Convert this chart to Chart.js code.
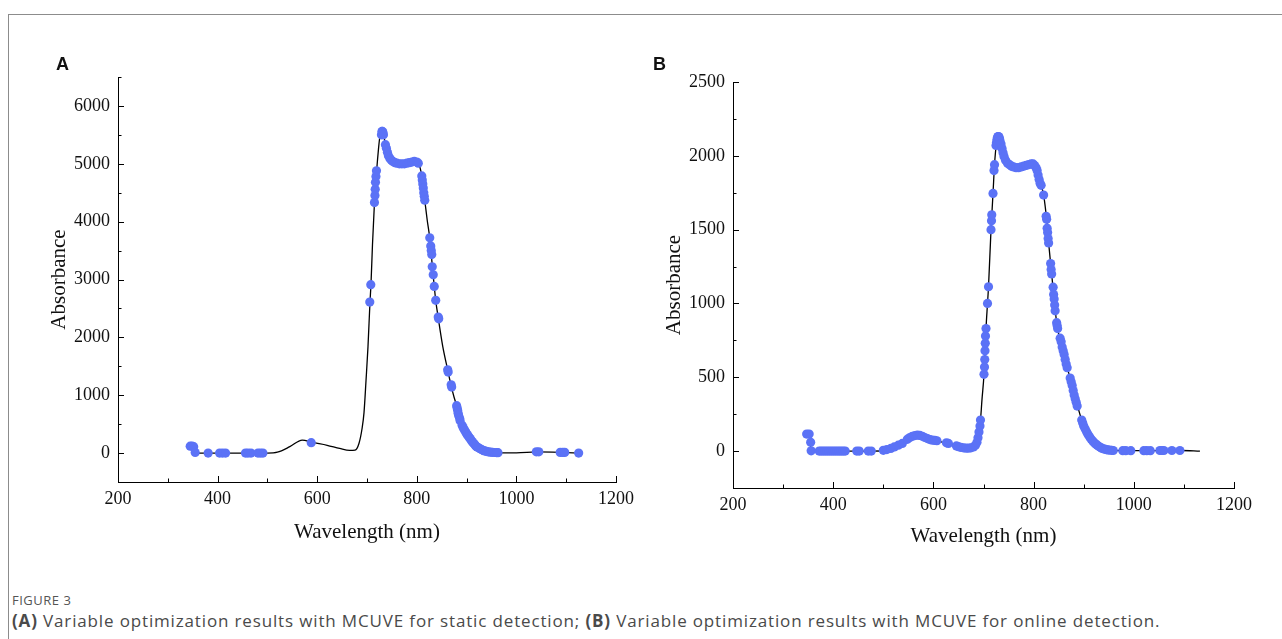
<!DOCTYPE html>
<html>
<head>
<meta charset="utf-8">
<script src="https://cdn.jsdelivr.net/npm/chart.js@4.4.1/dist/chart.umd.min.js"></script>
<style>
  body { margin: 0; background: #fff; width: 1282px; height: 639px; overflow: hidden; position: relative; font-family: 'Open Sans', sans-serif; }
  .frame-top { position: absolute; left: 8px; top: 14px; right: 0; height: 1px; background: #8c8c8c; }
  .frame-left { position: absolute; left: 8px; top: 14px; bottom: 0; width: 1px; background: #8c8c8c; }
  canvas { position: absolute; top: 0; }
  #chartA { left: 0; }
  #chartB { left: 640px; }
  .panel { position: absolute; top: 55px; font: bold 18px/18px 'Liberation Sans', Arial, sans-serif; color: #111; }
  .fig { position: absolute; left: 12px; top: 594px; font-size: 13px; line-height: 13px; letter-spacing: 0.5px; color: #555; }
  .cap { position: absolute; left: 12px; top: 612px; font-size: 17px; line-height: 17px; letter-spacing: 0.85px; color: #4a4a4a; white-space: nowrap; }
</style>
</head>
<body>
<div class="frame-top"></div>
<div class="frame-left"></div>
<canvas id="chartA" width="640" height="560"></canvas>
<canvas id="chartB" width="642" height="560"></canvas>
<div class="panel" style="left:56px">A</div>
<div class="panel" style="left:653px">B</div>
<div class="fig">FIGURE 3</div>
<div class="cap"><b>(A)</b> Variable optimization results with MCUVE for static detection; <b>(B)</b> Variable optimization results with MCUVE for online detection.</div>
<script>
// tick labels
const xTickLabels = [200, 400, 600, 800, 1000, 1200];
const yTickLabelsA = [0, 1000, 2000, 3000, 4000, 5000, 6000];
const yTickLabelsB = [0, 500, 1000, 1500, 2000, 2500];

// panel A: full spectrum (static)
const specWlA = [345,350,353,356,380,420,500,520,545,570,590,620,645,665,676,684,690,694,698,702,
  706,708,711,715,719.5,723,726,729,731,733,737,741,746,752,760,770,780,790,797,803,
  806,810,816,821,826,831,838,843,852,862,869,875,880,887,895,905,915,925,935,945,
  955,965,1000,1042,1092,1125];
const specAbsA = [120,118,110,5,0,0,0,15,110,225,185,135,80,45,50,170,420,700,1250,1840,
  2610,2918,3600,4330,4896,5250,5480,5560,5560,5530,5330,5200,5090,5040,5010,5000,5010,5030,5045,5010,
  4950,4790,4370,4020,3720,3250,2640,2340,1850,1440,1160,960,820,560,410,275,160,85,42,18,
  10,5,5,22,12,0];

// panel A: variables selected by MCUVE
const selWlA = [345,349,352,355,381,404,410,416,456,461,467,481,486,491,588,
  705.6,707.6,715,716,716.5,717,718,719,
  729,730,731,732,733,
  737,739,741,743,746,749,752,756,760,765,770,775,780,785,790,795,800,803,
  810,811,812,813,814,815,816,
  826,828,829,830,831,833,835,838,843,844,
  862,863,869,870,
  880,881,882,883,884,886,887,
  891,893,895,897,899,901,903,905,907,909,911,913,915,917,919,921,924,927,930,933,936,940,944,948,952,956,960,963,
  1040,1045,1088,1093,1097,1125];
const selAbsA = [120,120,110,10,0,0,0,0,0,0,0,0,0,0,180,
  2610,2910,4330,4450,4560,4680,4780,4880,
  5500,5560,5560,5540,5500,
  5330,5270,5200,5140,5090,5060,5040,5020,5010,5000,5000,5000,5010,5020,5030,5040,5030,5010,
  4790,4720,4650,4580,4500,4440,4370,
  3720,3580,3500,3430,3220,3080,2880,2640,2350,2320,
  1440,1400,1180,1140,
  820,780,740,690,650,600,560,
  480,440,410,380,350,320,300,275,250,225,200,180,160,140,120,105,90,75,60,48,38,28,20,15,12,10,8,6,
  22,22,12,12,12,0];

// panel B: full spectrum (online)
const specWlB = [345,352,354,356,380,480,500,515,530,548,558,568,578,590,603,615,630,646,660,670,
  680,686,690,694,697,701,705,708,710,715,719,722,726,729,733,739,745,755,768,780,
  795,800,805,811,815,820,826,830,836,841,846,851,857,864,870,876,882,889,896,903,
  912,921,930,940,950,960,980,1030,1076,1095,1132];
const specAbsB = [115,115,80,0,0,0,4,18,40,80,100,108,100,82,72,62,52,35,22,20,
  28,50,110,210,350,520,830,1000,1113,1500,1745,1940,2090,2130,2100,2020,1965,1932,1920,1930,
  1945,1943,1920,1840,1800,1734,1570,1410,1200,1030,870,780,700,600,530,460,370,290,210,150,
  95,57,32,15,7,4,3,3,4,4,0];

// panel B: variables selected by MCUVE
const selWlB = [347,352,355,356,
  372,376,380,384,388,392,396,400,404,408,412,416,420,424,
  447,452,470,476,
  500,507,515,522,530,538,
  548,553,558,563,568,573,578,583,588,593,598,603,607,
  626,630,646,650,655,660,665,670,675,680,684,687,689,691,693,694,
  701,702,702.5,703,703.5,704,705,708,710,715,716,716.5,719,721,722,
  725,726,727,728,729,730,731,732,733,735,737,739,741,
  744,748,752,756,760,765,770,775,780,785,790,795,799,802,805,807,809,811,813,815,
  820,825,826,827,828,829,830,834,835,836,839,840,841,842,843,846,847,848,
  853,855,857,859,861,863,865,867,
  873,875,877,879,881,883,885,887,
  896,898,900,903,906,909,912,915,918,921,924,927,930,933,936,939,942,945,948,952,956,959,
  978,984,994,1020,1026,1033,1052,1056,1060,1076,1092];
const selAbsB = [115,115,60,2,
  0,0,0,0,0,0,0,0,0,0,0,0,0,0,
  0,0,0,0,
  5,10,18,28,40,52,
  80,92,100,105,108,106,100,92,85,78,74,72,70,
  56,52,35,30,25,22,20,20,22,28,40,60,90,130,170,210,
  520,570,620,680,730,780,830,1000,1113,1500,1560,1600,1745,1900,1940,
  2070,2090,2110,2125,2130,2130,2125,2115,2100,2080,2050,2020,1995,
  1970,1950,1940,1930,1925,1920,1920,1925,1930,1935,1940,1945,1945,1935,1920,1900,1870,1840,1815,1800,
  1734,1590,1570,1510,1480,1440,1410,1270,1230,1200,1110,1060,1030,990,950,870,850,830,
  765,740,705,680,655,620,590,565,
  495,470,445,410,380,355,330,305,
  210,190,170,150,130,110,95,80,68,57,48,40,32,26,20,16,13,10,8,6,5,4,
  3,3,3,3,3,3,4,4,4,4,4];

const dotColor = '#5b72f6';
const serif = "'Liberation Serif', 'Times New Roman', serif";

const pairs = (xs, ys) => xs.map((x, i) => ({x: x, y: ys[i]}));

// ticks drawn inside the axes, long for labelled values, short otherwise
const inwardTicks = {
  id: 'inwardTicks',
  afterDraw(chart, args, opts) {
    const {ctx, chartArea} = chart;
    const xs = chart.scales.x, ys = chart.scales.y;
    ctx.save();
    ctx.strokeStyle = '#000';
    ctx.lineWidth = 1;
    ctx.beginPath();
    xs.ticks.forEach(t => {
      const px = Math.round(xs.getPixelForValue(t.value)) + 0.5;
      const len = opts.xMajor.includes(t.value) ? 6 : 3.5;
      ctx.moveTo(px, chartArea.bottom);
      ctx.lineTo(px, chartArea.bottom - len);
    });
    ys.ticks.forEach(t => {
      const py = Math.round(ys.getPixelForValue(t.value)) + 0.5;
      const len = opts.yMajor.includes(t.value) ? 6 : 3.5;
      ctx.moveTo(chartArea.left, py);
      ctx.lineTo(chartArea.left + len, py);
    });
    ctx.stroke();
    ctx.restore();
  }
};

const makeChart = (id, o) => new Chart(document.getElementById(id), {
  type: 'scatter',
  data: {
    datasets: [
      {
        label: 'selected',
        data: pairs(o.selWl, o.selAbs),
        backgroundColor: dotColor,
        borderWidth: 0,
        pointRadius: 4.6,
        order: 0
      },
      {
        type: 'line',
        label: 'spectrum',
        data: pairs(o.specWl, o.specAbs),
        borderColor: '#000',
        borderWidth: 1.3,
        pointRadius: 0,
        fill: false,
        cubicInterpolationMode: 'monotone',
        order: 1
      }
    ]
  },
  options: {
    responsive: false,
    animation: false,
    events: [],
    layout: { padding: o.pad },
    plugins: {
      legend: { display: false },
      tooltip: { enabled: false },
      inwardTicks: { xMajor: xTickLabels, yMajor: o.yLabels }
    },
    scales: {
      x: {
        type: 'linear',
        min: 200,
        max: 1200,
        grid: { display: false, drawTicks: false },
        border: { display: true, color: '#000', width: 1 },
        ticks: {
          stepSize: 100,
          autoSkip: false,
          maxRotation: 0,
          padding: 6,
          color: '#111',
          font: { family: serif, size: 18 },
          callback: v => xTickLabels.includes(v) ? String(v) : ''
        },
        title: {
          display: true,
          text: 'Wavelength (nm)',
          color: '#111',
          font: { family: serif, size: 21 },
          padding: { top: 0, bottom: o.xTitlePad }
        },
        afterFit: s => { s.height = o.xH; }
      },
      y: {
        type: 'linear',
        min: o.yMin,
        max: o.yMax,
        grid: { display: false, drawTicks: false },
        border: { display: true, color: '#000', width: 1 },
        ticks: {
          stepSize: o.yStep,
          autoSkip: false,
          padding: 8,
          color: '#111',
          font: { family: serif, size: 18 },
          callback: v => o.yLabels.includes(v) ? String(v) : ''
        },
        title: {
          display: true,
          text: 'Absorbance',
          color: '#111',
          font: { family: serif, size: 21 },
          padding: { top: o.yTitlePad, bottom: 0 }
        },
        afterFit: s => { s.width = o.yW; }
      }
    }
  },
  plugins: [inwardTicks]
});

makeChart('chartA', {
  specWl: specWlA, specAbs: specAbsA, selWl: selWlA, selAbs: selAbsA,
  yMin: -500, yMax: 6500, yStep: 500, yLabels: yTickLabelsA,
  pad: { top: 77, right: 20, bottom: 0, left: 0 },
  yW: 118, xH: 78, xTitlePad: 15, yTitlePad: 47
});

makeChart('chartB', {
  specWl: specWlB, specAbs: specAbsB, selWl: selWlB, selAbs: selAbsB,
  yMin: -250, yMax: 2500, yStep: 250, yLabels: yTickLabelsB,
  pad: { top: 82, right: 48, bottom: 0, left: 0 },
  yW: 93, xH: 72, xTitlePad: 11, yTitlePad: 22
});
</script>
</body>
</html>
